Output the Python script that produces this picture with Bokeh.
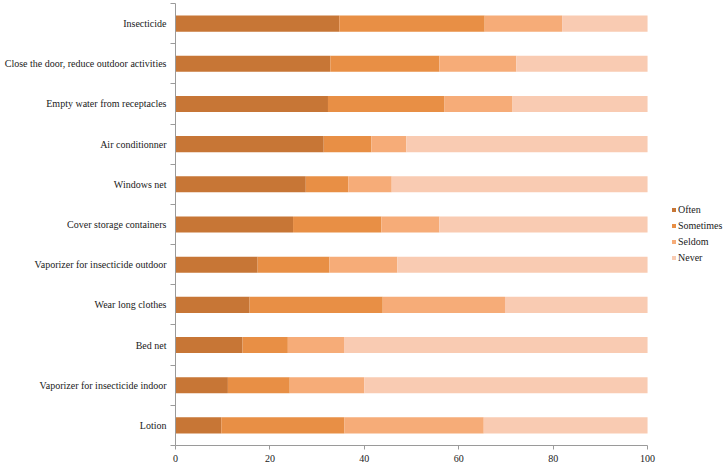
from bokeh.plotting import figure
from bokeh.models import Range1d, FixedTicker, Legend, LegendItem, ColumnDataSource
from bokeh.embed import file_html
from bokeh.resources import INLINE

categories = ["Insecticide", "Close the door, reduce outdoor activities",
              "Empty water from receptacles", "Air conditionner", "Windows net",
              "Cover storage containers", "Vaporizer for insecticide outdoor",
              "Wear long clothes", "Bed net", "Vaporizer for insecticide indoor", "Lotion"]
often = [34.7, 32.8, 32.3, 31.4, 27.6, 24.9, 17.4, 15.7, 14.2, 11.1, 9.7]
sometimes = [30.8, 23.1, 24.7, 10.1, 9.0, 18.7, 15.2, 28.2, 9.6, 13.1, 26.1]
seldom = [16.4, 16.3, 14.4, 7.4, 9.2, 12.3, 14.4, 25.9, 11.9, 15.8, 29.5]
never = [18.1, 27.8, 28.6, 51.1, 54.2, 44.1, 53.0, 30.2, 64.3, 60.0, 34.7]
series = ["Often", "Sometimes", "Seldom", "Never"]
colors = ["#C77636", "#E88F45", "#F6AC78", "#F9CBB2"]
x_ticks = [0, 20, 40, 60, 80, 100]

n = len(categories)
ypos = [n - 1 - i for i in range(n)]
source = ColumnDataSource(dict(y=ypos, Often=often, Sometimes=sometimes, Seldom=seldom, Never=never))

FONT = "Liberation Serif"
p = figure(width=724, height=465, output_backend="svg", toolbar_location=None,
           x_range=Range1d(0, 116.3), y_range=Range1d(-0.5, n - 0.5),
           min_border_left=175, min_border_right=0, min_border_top=3, min_border_bottom=20)
p.outline_line_color = None
p.xgrid.visible = False
p.ygrid.visible = False

renderers = p.hbar_stack(series, y="y", height=0.4, color=colors, source=source, line_width=0)

# y axis
p.yaxis.ticker = FixedTicker(ticks=ypos, minor_ticks=[k + 0.5 for k in range(-1, n)])
p.yaxis.major_label_overrides = {y: c for y, c in zip(ypos, categories)}
p.yaxis.major_tick_line_color = None
p.yaxis.major_tick_out = 0
p.yaxis.major_tick_in = 0
p.yaxis.minor_tick_line_color = "#9a9a9a"
p.yaxis.minor_tick_out = 5
p.yaxis.minor_tick_in = 0
p.yaxis.axis_line_color = "#9a9a9a"
p.yaxis.major_label_standoff = 4
p.yaxis.major_label_text_font = FONT
p.yaxis.major_label_text_font_size = "10px"
p.yaxis.major_label_text_color = "#1a1a1a"

# x axis
p.xaxis.ticker = FixedTicker(ticks=x_ticks)
p.xaxis.bounds = (0, 100)
p.xaxis.minor_tick_line_color = None
p.xaxis.major_tick_out = 4
p.xaxis.major_tick_in = 0
p.xaxis.major_tick_line_color = "#9a9a9a"
p.xaxis.axis_line_color = "#9a9a9a"
p.xaxis.major_label_standoff = 5
p.xaxis.major_label_text_font = FONT
p.xaxis.major_label_text_font_size = "10px"
p.xaxis.major_label_text_color = "#1a1a1a"

legend = Legend(items=[LegendItem(label=s, renderers=[r]) for s, r in zip(series, renderers)],
                location=(496, 182))
legend.border_line_color = None
legend.background_fill_alpha = 0
legend.padding = 0
legend.margin = 0
legend.glyph_width = 5
legend.glyph_height = 5
legend.label_height = 12
legend.spacing = 4
legend.label_standoff = 2
legend.label_text_font = FONT
legend.label_text_font_size = "10px"
legend.label_text_color = "#1a1a1a"
p.add_layout(legend)

open("out.html", "w").write(file_html(p, INLINE))
